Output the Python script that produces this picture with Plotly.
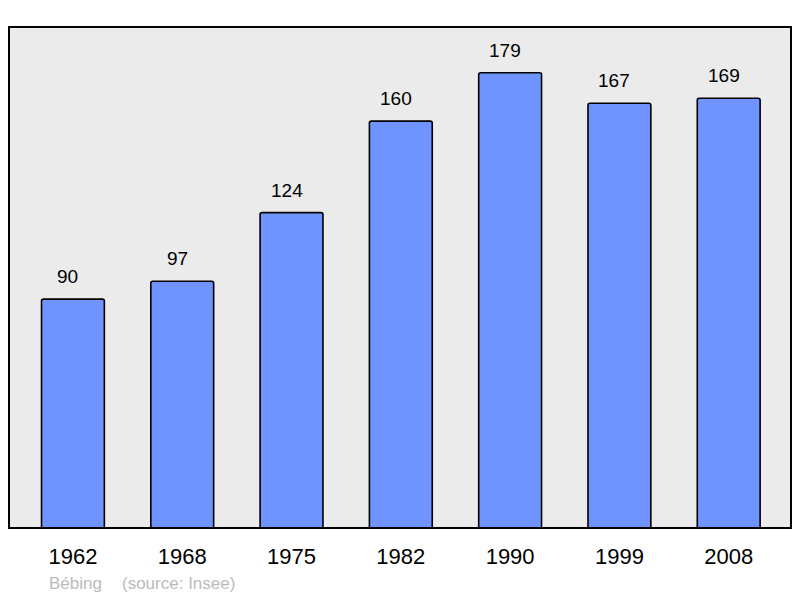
import plotly.graph_objects as go

years = ["1962", "1968", "1975", "1982", "1990", "1999", "2008"]
population = [90, 97, 124, 160, 179, 167, 169]
commune = "Bébing"
source = "(source: Insee)"

FONT = "Liberation Sans, Arial, sans-serif"

positions = list(range(len(years)))

fig = go.Figure()
fig.add_trace(go.Bar(
    x=positions, y=population,
    width=0.575,
    marker=dict(color="#7094FF", line=dict(color="#000000", width=1.6), cornerradius=2),
    hovertext=years, hoverinfo="text+y",
))

for i, v in zip(positions, population):
    fig.add_annotation(x=i, y=v, xref="x", yref="y", text=str(v), showarrow=False,
                       yanchor="bottom", yshift=10, xshift=-5,
                       font=dict(family=FONT, size=19, color="#000000"))

fig.add_annotation(xref="paper", yref="paper", x=(47 - 9) / 782, y=(528 - 583) / 501,
                   text=commune, showarrow=False, xanchor="left", yanchor="middle",
                   font=dict(family=FONT, size=17, color="#BBBBBB"))
fig.add_annotation(xref="paper", yref="paper", x=(120 - 9) / 782, y=(528 - 583) / 501,
                   text=source, showarrow=False, xanchor="left", yanchor="middle",
                   font=dict(family=FONT, size=17, color="#BBBBBB"))

fig.add_shape(type="rect", xref="paper", yref="paper", x0=0, y0=0, x1=1, y1=1,
              line=dict(color="#000000", width=2), layer="above")

fig.update_layout(
    width=800, height=598,
    margin=dict(l=9, r=9, t=27, b=70),
    paper_bgcolor="#FFFFFF",
    plot_bgcolor="#EBEBEB",
    showlegend=False,
    font=dict(family=FONT),
    xaxis=dict(
        range=[-0.585, 6.57],
        tickmode="array", tickvals=positions, ticktext=years,
        showgrid=False, zeroline=False, showline=False,
        ticks="outside", ticklen=9, tickcolor="rgba(0,0,0,0)",
        tickfont=dict(family=FONT, size=22, color="#000000"),
    ),
    yaxis=dict(
        range=[0, 197], showgrid=False, zeroline=False, showline=False,
        showticklabels=False, ticks="",
    ),
)

fig.write_html("out.html", config={"displayModeBar": False},
               post_script="document.body.style.margin='0';document.body.style.padding='0';")
